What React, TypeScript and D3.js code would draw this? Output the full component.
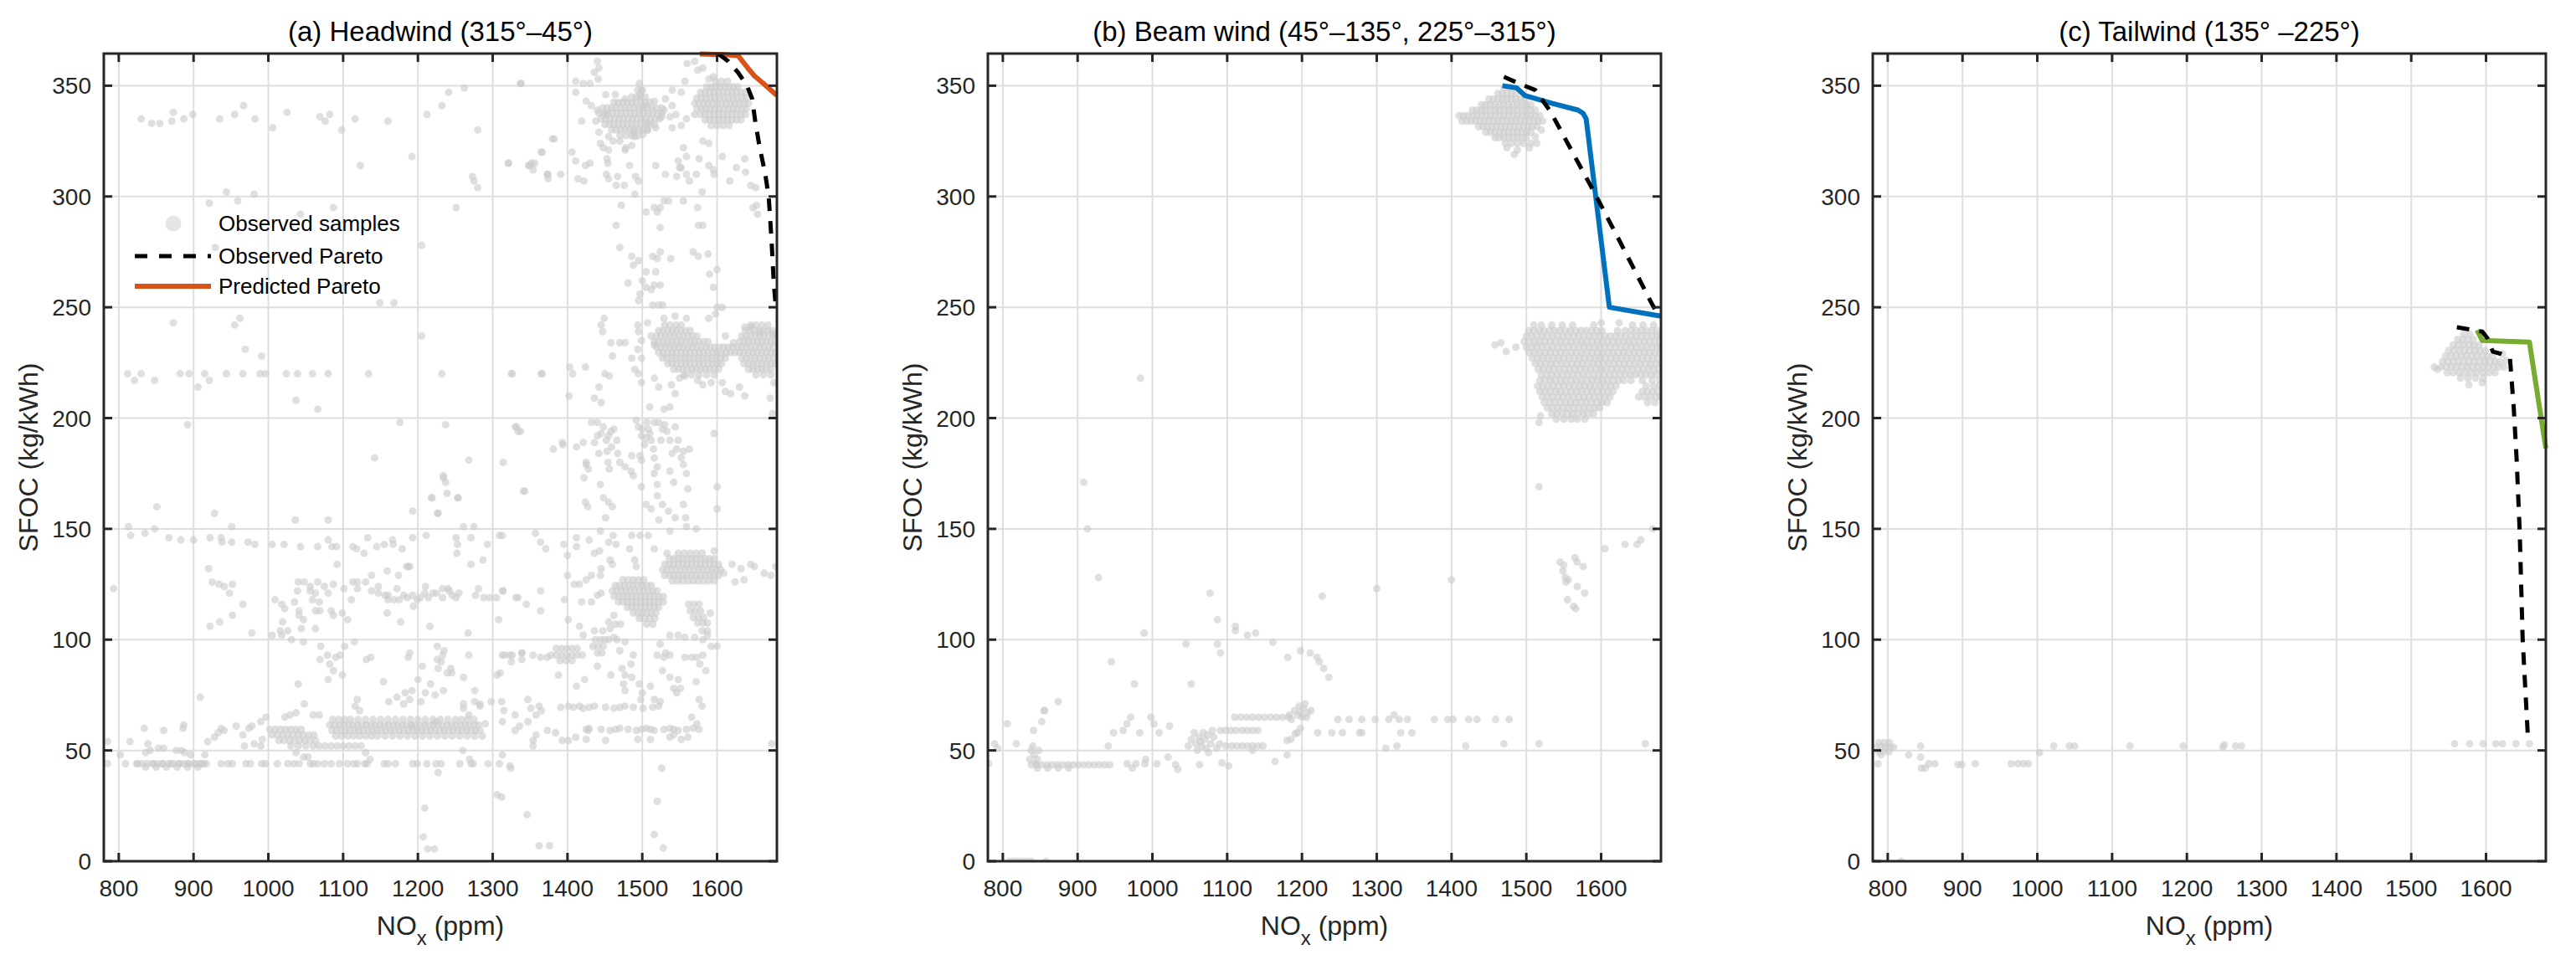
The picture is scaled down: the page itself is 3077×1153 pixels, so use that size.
import React from 'react';
import * as d3 from 'd3';

type Pt = [number, number];
type Row = [number, number[]];

const X_DOMAIN: Pt = [780, 1680];
const Y_DOMAIN: Pt = [0, 364.5];
const X_TICKS = [800, 900, 1000, 1100, 1200, 1300, 1400, 1500, 1600];
const Y_TICKS = [0, 50, 100, 150, 200, 250, 300, 350];

const TITLES = ['(a) Headwind (315°–45°)', '(b) Beam wind (45°–135°, 225°–315°)', '(c) Tailwind (135° –225°)'];
const PRED_COLORS = ['#D95319', '#0072BD', '#77AC30'];
const LEGEND_LABELS = ['Observed samples', 'Observed Pareto', 'Predicted Pareto'];

// ---------- Headwind (a) ----------
const headwindScatter: Pt[] = [
  [813,151],[816,147],[835,148],[848,150],[851,160],[867,146],[883,145],[900,145],[922,146],[928,157],[937,146],[938,144],[951,151],[951,144],[973,144],[982,143],[1005,143],[1021,143],[1036,154],[1043,142],[1066,142],[1080,154],[1080,145],[1085,142],[1091,142],[1092,134],[1113,142],[1118,141],[1128,139],[1133,146],[1145,142],[1155,143],[1166,145],[1167,143],[1179,141],[1187,133],[1193,146],[1193,158],[1211,147],[1219,164],[1227,157],[1234,173],[1237,171],[1239,166],[1253,164],[1251,146],[1253,143],[1252,139],[1261,151],[1271,146],[1271,134],[1275,151],[1287,136],[1293,143],[1309,147],
  [793,123],[920,132],[925,126],[934,125],[941,124],[948,121],[952,125],[966,116],[952,111],[935,108],[922,106],[978,103],[1005,102],[1009,118],[1018,116],[1022,114],[1019,108],[1016,104],[1018,102],[1026,104],[1031,100],[1035,117],[1040,126],[1039,122],[1041,113],[1041,111],[1044,105],[1047,109],[1047,99],[1048,126],[1056,124],[1056,122],[1059,118],[1063,113],[1063,121],[1063,105],[1066,126],[1068,117],[1069,113],[1075,124],[1080,121],[1084,113],[1087,111],[1087,125],[1101,123],[1099,112],[1106,109],[1111,118],[1113,126],[1119,126],[1119,123],[1130,126],[1138,129],[1138,122],[1147,124],[1147,121],[1159,131],[1160,120],[1174,129],[1172,123],[1185,133],[1189,133],
  [1156,120],[1160,118],[1168,118],[1175,118],[1181,120],[1186,119],[1193,120],[1199,118],[1203,119],[1209,121],[1214,119],[1220,121],[1225,121],[1233,119],[1242,122],[1246,120],[1251,119],[1255,121],[1277,120],[1281,123],[1288,119],[1296,119],[1305,119],[1314,122],[1331,119],[1233,123],[1240,123],[1210,124],[1194,115],[1159,112],[1177,108],[1216,106],[1267,103],[1268,93],[1308,109],
  [1235,95],[1226,91],[1233,93],[1226,97],[1231,90],[1227,87],[1239,85],[1245,85],[1244,87],[1261,83],[1276,77],[1234,77],[1223,75],[1217,80],[1210,76],[1204,72],[1206,88],[1200,82],[1189,94],[1187,92],[1192,77],[1189,73],[1183,76],[1172,74],[1181,71],[1161,72],[1154,81],[1137,92],[1131,91],[1115,99],[1102,97],[1096,93],[1090,92],[1099,84],[1087,86],[1082,89],[1079,93],[1070,97],[1069,91],[1080,82],[1040,80],[1048,71],[1306,84],[1310,85],[1316,93],[1323,93],[1325,90],[1339,94],[1339,91],[1261,71],[1276,72],[1283,71],[1298,72],[1312,72],[1315,68],[1119,73],[1116,70],[1122,68],[1261,69],[1283,70],[1268,66],[1275,64],[1290,62],
  [834,60],[860,59],[886,60],[887,61.5],[815,54],[839,53],[785,54],[802,48],[836,49],[842,50],[853,51],[860,51],[877,50],[884,50],[888,49],[896,48],[915,48],[919,54],[928,56],[933,58],[937,60],[941,59],[957,61],[966,57],[974,60],[978,61],[990,63],[997,65],[968,52],[981,53],[990,52],[992,55],[1022,65],[1029,66],[1037,67],[1053,47],[1047,47],[1037,49],[1060,66],[1068,66],[1192,61],[1224,63],[909,74],
  [785,44],[809,44],[825,44],[847,44],[858,44],[870,44],[881,44],[892,44],[903,44],[911,44],[917,44],[937,44],[946,44],[952,44],[970,44],[976,44],[991,44],[996,44],[1012,44],[1026,44],[1034,44],[1041,44],[1056,44],[1060,44],[1066,44],[1075,44],[1084,44],[1095,44],[1106,44],[1114,44],[1119,44],[1129,44],[1132,44],[1155,44],[1160,44],[1170,44],[1193,44],[1199,44],[1212,44],[1224,44],[1231,44],[1256,44],[1274,44],[1294,44],[1309,44],[1323,43],
  [1227,40],[1306,30],[1209,24],[1207,11],[1213,5.5],[1222,5.5],[1269,46],[1271,44],[1260,50],[1313,48],[1136,46],[1130,49],[1312,29],[1346,21],[1362,7],[1376,7],[1324,42],[1526,42],[1520,27],[1516,12],[1528,6],[1673,53],
  [830,335],[844,333],[855,333],[873,338],[871,334],[887,335],[899,337],[935,335],[955,337],[967,341],[982,335],[1006,331],[1025,338],[1069,336],[1082,337],[1076,334],[1098,330],[1116,335],[1160,334],[1212,337],[1232,341],[1241,347],[1262,349],[1337,351],[1280,330],[1123,314],[1192,318],[921,297],[944,302],[959,298],[981,301],[1043,292],[1087,295],[1251,295],[1273,309],[1275,307],[1280,304],[1321,315],[1380,326],[1366,320],[1348,314],[1352,315],[1373,310],[1391,310],[1205,278],[929,277],[1149,252],[1168,252],[873,243],[955,242],[962,245],[969,231],[991,228],[1205,237],
  [812,220],[821,217],[830,220],[848,217],[882,220],[894,220],[906,214],[915,220],[921,217],[944,220],[966,220],[989,220],[996,220],[1024,220],[1039,220],[1059,220],[1080,220],[1134,220],[1232,220],[1325,220],[1366,220],[1037,208],[1066,204],[892,197],[1176,198],[1237,197],[1142,182],[1268,181],[1314,180],[1330,196],[1334,194],[1394,188],[1234,174],[1218,164],[1254,164],[1226,157],[1341,167],
  [1338,351],[1321,315],[1349,314],[1354,312],[1356,315],[1365,320],[1374,310],[1374,308],[1382,326],[1406,320],[1411,316],[1414,308],[1422,307],[1424,314],[1430,315],[1411,352],[1411,347],[1421,351],[1430,351],[1419,334],[1440,361],[1442,358],[1436,356],[1441,353],[1425,343],[1432,341],[1440,339],[1444,324],[1448,322],[1455,321],[1453,317],[1454,315],[1452,310],[1455,308],[1465,305],[1467,309],[1476,305],[1478,322],[1483,314],[1486,323],[1491,309],[1495,307],[1490,301],[1472,296],[1465,287],[1470,277],[1486,273],[1488,269],[1495,271],[1505,266],[1505,259],[1495,253],[1497,256],[1500,262],[1481,261],[1518,314],[1531,310],[1505,293],[1516,295],[1520,293],[1524,295],[1529,298],[1535,298],[1524,286],[1514,273],[1524,275],[1520,272],[1518,266],[1512,258],[1516,260],[1524,260],[1527,251],[1514,251],[1522,251],[1538,272],[1555,298],[1574,295],[1575,287],[1581,287],[1568,275],[1575,273],[1588,274],[1590,265],[1600,267],[1595,259],[1607,250],[1645,305],[1652,304],[1653,296],[1648,295],[1654,292],[1617,307],[1626,313],[1637,317],[1638,311],[1580,302],[1572,310],[1559,310],[1552,313],[1548,316],[1559,318],[1576,317],[1589,314],[1595,312],[1596,310],[1555,322],[1581,325],[1589,324],[1607,318],[1563,307],[1546,309],[1550,313],
  [1540,341],[1552,347],[1557,352],[1545,337],[1537,336],[1540,331],[1552,332],[1559,335],[1570,337],[1574,357],[1570,361],[1589,353],[1595,354],[1540,348],[1531,344],[1526,336],[1518,331],[1507,330],[1501,328],[1490,327],[1507,333],[1526,340],[1529,339],[1516,343],[1497,346],[1499,348],[1503,341],[1477,344],[1464,346],[1451,346],[1451,337],[1438,334],[1442,329],[1455,327],[1461,325],[1470,325],[1477,321],[1488,329],[1581,358],[1595,364],[1560,360],
  [1449,245],[1445,242],[1447,239],[1458,234],[1470,234],[1477,234],[1460,228],[1486,227],[1494,242],[1495,239],[1499,235],[1494,231],[1499,227],[1490,222],[1495,220],[1499,216],[1507,243],[1512,237],[1516,233],[1516,218],[1522,214],[1539,215],[1544,211],[1550,218],[1557,219],[1574,217],[1581,215],[1592,216],[1607,216],[1611,212],[1618,211],[1630,214],[1637,210],[1671,209],[1674,202],[1676,216],[1529,245],[1544,246],[1559,245],[1589,245],[1598,247],[1600,250],[1611,237],[1622,234],[1637,241],[1645,241],[1658,239],[1676,238],[1403,223],[1424,223],[1326,220],[1365,220],[1407,220],[1450,220],[1456,219],[1442,214],[1436,209],[1445,207],[1402,210],
  [1332,196],[1337,194],[1381,186],[1393,189],[1412,187],[1421,189],[1425,180],[1432,198],[1440,198],[1445,193],[1455,192],[1462,195],[1466,190],[1459,187],[1453,185],[1436,189],[1442,184],[1467,184],[1470,180],[1486,183],[1492,199],[1495,196],[1499,192],[1505,191],[1508,195],[1512,190],[1516,198],[1522,198],[1527,195],[1533,194],[1537,190],[1544,196],[1540,184],[1546,186],[1555,185],[1563,186],[1497,183],[1499,181],[1520,178],[1516,182],[1596,193],[1537,205],[1529,204],[1510,205],[1448,196],[1452,190],[1458,194],[1440,192],[1500,195],[1503,188],[1506,198],[1510,193],[1515,186],[1525,190],[1530,197],[1548,190],[1552,182],
  [1425,179],[1422,173],[1428,177],[1454,180],[1456,177],[1444,170],[1477,178],[1485,176],[1488,174],[1499,169],[1516,175],[1520,170],[1537,176],[1542,171],[1555,179],[1559,175],[1561,168],[1600,169],[1600,159],[1424,162],[1427,160],[1448,164],[1455,162],[1460,160],[1451,155],[1505,161],[1512,159],[1520,165],[1527,161],[1535,158],[1522,154],[1537,149],[1544,155],[1555,161],[1558,155],[1559,151],[1572,150],[1343,167],
  [1357,148],[1364,144],[1371,141],[1395,143],[1400,138],[1412,146],[1412,142],[1429,145],[1436,139],[1443,140],[1444,149],[1455,144],[1461,147],[1465,143],[1486,147],[1497,147],[1508,147],[1516,141],[1483,141],[1490,136],[1492,133],[1457,136],[1460,134],[1445,132],[1444,129],[1432,129],[1425,127],[1416,125],[1409,125],[1400,129],[1396,118],[1419,117],[1432,117],[1440,120],[1445,121],[1401,109],[1416,106],[1421,102],[1436,104],[1447,104],[1457,105],[1464,107],[1471,107],[1455,108],[1462,111],[1466,100],[1313,122],[1334,119],[1345,116],[1364,122],[1364,113],[1313,147],
  [1620,134],[1632,132],[1645,134],[1650,133],[1663,130],[1672,129],[1678,133],[1624,126],[1636,127],[1609,130],[1596,140],[1533,139],[1591,112],[1587,102],[1581,100],
  [1313,93],[1326,93],[1339,94],[1354,93],[1364,92],[1373,92],[1455,100],[1462,101],[1470,95],[1477,99],[1488,93],[1485,89],[1473,87],[1458,84],[1440,88],[1388,84],[1412,79],[1423,82],[1477,84],[1486,83],[1496,80],[1500,76],[1498,73],[1511,79],[1516,73],[1524,72],[1477,77],[1475,80],[1520,93],[1524,98],[1529,92],[1531,94],[1537,93],[1527,86],[1537,83],[1548,82],[1542,78],[1546,76],[1551,78],[1557,92],[1566,92],[1573,92],[1577,89],[1581,93],[1585,86],[1572,81],[1576,73],[1580,70],[1566,65],[1573,62],[1592,97],[1600,97],[1537,102],[1548,102],[1557,101],[1570,101],
  [1391,69.5],[1401,70],[1408,69.5],[1416,70],[1421,69],[1429,69.5],[1436,70],[1451,69.5],[1462,69],[1470,69.5],[1477,70],[1488,69.5],[1501,69],[1514,69.5],[1522,70],
  [1425,59.5],[1429,60],[1445,59.5],[1457,59],[1464,59.5],[1470,60],[1481,59.5],[1492,59],[1499,59.5],[1505,60],[1511,59.5],[1516,59],[1529,59.5],[1537,60],[1542,59.5],[1548,59],[1559,59.5],[1568,60],[1576,59.5],[1511,55],[1537,56],[1542,57],[1552,55],[1561,56],[1494,55],[1451,54.5],[1428,59],
  [1347,73],[1351,69],[1362,70],[1330,66],[1347,63],[1358,66],[1365,68],[1373,59],[1358,57],[1354,54.5],[1354,52],[1330,59],[1336,61],[1384,58],[1393,54.5],[1401,54.5],[1411,56],[1425,55],[1313,63],
];

const headwindClusterRows: Row[] = [
  [351, [1496]], [348, [1494, 1500]],
  [345, [1486, 1492, 1498, 1504]],
  [342.5, [1462, 1468, 1474, 1480, 1486, 1492, 1498, 1504, 1510]],
  [340, [1447, 1453, 1459, 1465, 1471, 1477, 1483, 1489, 1495, 1501, 1507, 1513, 1519]],
  [337.5, [1442, 1448, 1454, 1460, 1466, 1472, 1478, 1484, 1490, 1496, 1502, 1508, 1514, 1520, 1526]],
  [335, [1445, 1451, 1457, 1463, 1469, 1475, 1481, 1487, 1493, 1499, 1505, 1511, 1517, 1523]],
  [332.5, [1450, 1456, 1462, 1468, 1474, 1480, 1486, 1492, 1498, 1504, 1510, 1516]],
  [330, [1459, 1465, 1471, 1477, 1483, 1489, 1495, 1501, 1507]],
  [327.5, [1470, 1478, 1486, 1494]],
  [352, [1598, 1606, 1614]],
  [349.5, [1586, 1592, 1598, 1604, 1610, 1616, 1622, 1628]],
  [347, [1578, 1584, 1590, 1596, 1602, 1608, 1614, 1620, 1626, 1632, 1638]],
  [344.5, [1573, 1579, 1585, 1591, 1597, 1603, 1609, 1615, 1621, 1627, 1633, 1639]],
  [342, [1570, 1576, 1582, 1588, 1594, 1600, 1606, 1612, 1618, 1624, 1630, 1636, 1642]],
  [339.5, [1573, 1579, 1585, 1591, 1597, 1603, 1609, 1615, 1621, 1627, 1633, 1639]],
  [337, [1578, 1584, 1590, 1596, 1602, 1608, 1614, 1620, 1626, 1632, 1638]],
  [334.5, [1584, 1590, 1596, 1602, 1608, 1614, 1620, 1626, 1632]],
  [332, [1592, 1600, 1608, 1616]],
  [242, [1530, 1537, 1545, 1552, 1645, 1652, 1660, 1668]],
  [239.5, [1522, 1528, 1534, 1540, 1546, 1552, 1558, 1564, 1638, 1644, 1650, 1656, 1662, 1668, 1674]],
  [237, [1519, 1525, 1531, 1537, 1543, 1549, 1555, 1561, 1567, 1573, 1633, 1639, 1645, 1651, 1657, 1663, 1669, 1675, 1680]],
  [234.5, [1516, 1522, 1528, 1534, 1540, 1546, 1552, 1558, 1564, 1570, 1576, 1582, 1588, 1630, 1636, 1642, 1648, 1654, 1660, 1666, 1672, 1678]],
  [232, [1519, 1525, 1531, 1537, 1543, 1549, 1555, 1561, 1567, 1573, 1579, 1585, 1591, 1597, 1603, 1609, 1615, 1621, 1627, 1633, 1639, 1645, 1651, 1657, 1663, 1669, 1675]],
  [229.5, [1522, 1528, 1534, 1540, 1546, 1552, 1558, 1564, 1570, 1576, 1582, 1588, 1594, 1600, 1606, 1612, 1618, 1624, 1630, 1636, 1642, 1648, 1654, 1660, 1666, 1672, 1678]],
  [227, [1527, 1533, 1539, 1545, 1551, 1557, 1563, 1569, 1575, 1581, 1587, 1593, 1599, 1605, 1611, 1633, 1639, 1645, 1651, 1657, 1663, 1669, 1675]],
  [224.5, [1534, 1540, 1546, 1552, 1558, 1564, 1570, 1576, 1582, 1588, 1594, 1600, 1606, 1636, 1642, 1648, 1654, 1660, 1666, 1672, 1678]],
  [222, [1542, 1548, 1554, 1560, 1566, 1572, 1578, 1584, 1590, 1596, 1602, 1642, 1648, 1654, 1660, 1666, 1672]],
  [219.5, [1556, 1566, 1576, 1586, 1596, 1652, 1662, 1672]],
  [139, [1548, 1556, 1564, 1572, 1580]],
  [136.5, [1536, 1542, 1548, 1554, 1560, 1566, 1572, 1578, 1584, 1590, 1596]],
  [134, [1530, 1536, 1542, 1548, 1554, 1560, 1566, 1572, 1578, 1584, 1590, 1596, 1602]],
  [131.5, [1527, 1533, 1539, 1545, 1551, 1557, 1563, 1569, 1575, 1581, 1587, 1593, 1599, 1605]],
  [129, [1530, 1536, 1542, 1548, 1554, 1560, 1566, 1572, 1578, 1584, 1590, 1596, 1602]],
  [126.5, [1540, 1547, 1554, 1561, 1568, 1575, 1582, 1589, 1596]],
  [127, [1474, 1481, 1488, 1495, 1502]],
  [124.5, [1464, 1470, 1476, 1482, 1488, 1494, 1500, 1506, 1512]],
  [122, [1460, 1466, 1472, 1478, 1484, 1490, 1496, 1502, 1508, 1514, 1520]],
  [119.5, [1462, 1468, 1474, 1480, 1486, 1492, 1498, 1504, 1510, 1516, 1522, 1528]],
  [117, [1468, 1474, 1480, 1486, 1492, 1498, 1504, 1510, 1516, 1522, 1528]],
  [114.5, [1480, 1486, 1492, 1498, 1504, 1510, 1516, 1522]],
  [112, [1488, 1494, 1500, 1506, 1512, 1518]],
  [109.5, [1496, 1503, 1510, 1517]],
  [107, [1506, 1514]],
  [116, [1562, 1569, 1576]], [113, [1564, 1571, 1578]], [110, [1568, 1575, 1582]], [107.5, [1574, 1581, 1587]], [104, [1580, 1587]],
  [96, [1385, 1392, 1399, 1406, 1413]], [93, [1378, 1385, 1392, 1399, 1406, 1413, 1420]], [90.5, [1390, 1398, 1406]],
  [100, [1437, 1444, 1450]], [97, [1434, 1441, 1448]], [94, [1440, 1446]],
  [64, [1086, 1094, 1102, 1110, 1120, 1130, 1140, 1150, 1160, 1170, 1180, 1190, 1200, 1210, 1220, 1230, 1240, 1250, 1258, 1266]],
  [61.5, [1082, 1089, 1095, 1101, 1107, 1113, 1119, 1125, 1131, 1137, 1143, 1149, 1155, 1161, 1167, 1173, 1179, 1185, 1191, 1197, 1203, 1209, 1215, 1221, 1227, 1233, 1239, 1245, 1251, 1257, 1263, 1269, 1275, 1281]],
  [59, [1085, 1091, 1097, 1103, 1109, 1115, 1121, 1127, 1133, 1139, 1145, 1151, 1157, 1163, 1169, 1175, 1181, 1187, 1193, 1199, 1205, 1211, 1217, 1223, 1229, 1235, 1241, 1247, 1253, 1259, 1265, 1271, 1277, 1283]],
  [56.5, [1090, 1098, 1106, 1114, 1122, 1130, 1138, 1146, 1156, 1166, 1176, 1186, 1196, 1206, 1216, 1226, 1236, 1246, 1256, 1266, 1276, 1286]],
  [59.5, [1002, 1009, 1016, 1023, 1030, 1037, 1044]],
  [57, [1005, 1012, 1019, 1026, 1033, 1040, 1047, 1054, 1061]],
  [54.5, [1014, 1021, 1028, 1035, 1042, 1049, 1056, 1063]],
  [52, [1030, 1040, 1050, 1060, 1068, 1076, 1084, 1092, 1100, 1108, 1116, 1124]],
  [44, [824, 831, 838, 845, 852, 859, 866, 873, 880, 887, 894, 901, 908, 914]],
  [42.5, [836, 850, 864, 878, 892, 906]],
];

const headwindObserved: Pt[] = [[1602,364.3],[1615,361],[1628,356],[1640,350],[1647,344],[1651,334],[1657,322],[1664,311],[1669,300],[1671,290],[1673,279],[1676,260],[1679,249]];
const headwindPredicted: Pt[] = [[1577,364.3],[1610,364],[1628,363.6],[1641,358],[1650,354.4],[1661,351.3],[1672,348],[1680,345.6]];

// ---------- Beam wind (b) ----------
const beamScatter: Pt[] = [
  [908,171],[913,150],[928,128],[1077,121],[1227,119.6],[1400,127],[1300,123],[1517,169],
  [1545,135],[1550,133.6],[1549,131],[1552,128],[1553,126],[1556,127],[1555,118],[1563,115],[1565,137],[1568,135],[1568,124],[1576,133],[1578,121],[1566,114],
  [1605,141],[1632,143],[1648,143],[1653,145],[1669,150],[1517,53],[1659,53],
  [1161,98.8],[1198,95],[1211,94],[1220,92],[1223,90],[1229,87],[1236,83],[1181,92],
  [1091,94],[1087,98],[1045,98],[1087,109],[1111,104],[1111,106],[1127,102],[1138,103],
  [989,103],[945,90],[976,80],[1052,80],[874,72],[855,68],[984,218],
  [1248,64],[1263,64],[1280,64],[1298,64],[1316,64],[1330,64],[1341,64],[1377,64],[1395,64],[1402,64],[1423,64],[1434,64],[1459,64],[1477,64],[1323,66],
  [1221,58],[1240,58],[1254,58],[1277,58],[1280,58],[1332,58],[1347,58],
  [1419,52],[1470,53],[1327,52],[1312,51],
  [1190,68],[1196,70],[1202,69],[1208,67],[1194,66],[1200,65],[1206,65],[1212,68],[1186,64],[1183,66],[1204,71],[1198,67],
  [1110,65],[1118,65],[1126,65],[1134,65],[1142,65],[1150,65],[1158,65],[1166,65],[1174,65],[1182,65],
  [1091,59],[1098,59],[1105,59],[1112,59],[1120,59],[1127,59],[1134,59],[1141,59],
  [1098,52],[1106,52],[1113,52],[1120,52],[1127,52],[1134,52],[1141,52],[1148,52],
  [1052,55],[1058,53],[1062,56],[1066,52],[1070,55],[1074,57],[1078,53],[1082,56],[1086,51],[1060,50],[1075,49],[1090,53],[1048,52],[1056,58],[1068,58],[1080,59],[1072,51],[1064,54],
  [838,43.5],[845,43.5],[852,43.5],[859,43.5],[866,43.5],[873,43.5],[880,43.5],[887,43.5],[894,43.5],[901,43.5],[908,43.5],[915,43.5],[922,43.5],[929,43.5],[936,43.5],[943,43.5],
  [846,42],[860,42],[874,42],[888,42],[966,44],[978,44],[990,44],
  [838,50],[842,48],[846,46],[840,52],[836,46],[848,50],[844,44],
  [809,0],[815,0],[820,0],[826,0],[832,0],[838,0],[858,0],
  [781,44],[806,62],[789,53],[793,51],[818,53],[841,59],[852,63],[856,68],
  [1031,43.6],[1034,41.5],[1063,43.6],[1102,43],[1134,50],[1164,45],[1180,48],[1093,44.4],[1006,44],[991,46],[973,42],[1021,47],[941,52],[948,58],[961,59],[966,62],[971,65],[983,58],[998,65],[1002,62],[1009,58],[1023,61],
  [1180,54.5],[1191,57.5],[1198,60],[1185,55],[1194,58],
  [1458,233],[1466,234],[1473,230],[1486,232],[1624,243],[1517,198],[1519,201],[1600,243],
  [1484,319],[1488,321],[1474,322],[1512,327],[1520,330],[1504,322],
];

const beamClusterRows: Row[] = [
  [349, [1470, 1478]],
  [346.5, [1462, 1468, 1474, 1480, 1486]],
  [344, [1450, 1456, 1462, 1468, 1474, 1480, 1486, 1492, 1498]],
  [341.5, [1440, 1446, 1452, 1458, 1464, 1470, 1476, 1482, 1488, 1494, 1500, 1506]],
  [339, [1428, 1434, 1440, 1446, 1452, 1458, 1464, 1470, 1476, 1482, 1488, 1494, 1500, 1506, 1512]],
  [336.5, [1410, 1416, 1422, 1428, 1434, 1440, 1446, 1452, 1458, 1464, 1470, 1476, 1482, 1488, 1494, 1500, 1506, 1512, 1518]],
  [334, [1414, 1420, 1426, 1432, 1438, 1444, 1450, 1456, 1462, 1468, 1474, 1480, 1486, 1492, 1498, 1504, 1510, 1516, 1522]],
  [331.5, [1436, 1442, 1448, 1454, 1460, 1466, 1472, 1478, 1484, 1490, 1496, 1502, 1508, 1514]],
  [329, [1446, 1452, 1458, 1464, 1470, 1476, 1482, 1488, 1494, 1500, 1506]],
  [326.5, [1458, 1464, 1470, 1476, 1482, 1488, 1494, 1500]],
  [324, [1472, 1480, 1488, 1496, 1506, 1514]],
  [242, [1510, 1520, 1534, 1548, 1562, 1590, 1642, 1656, 1670]],
  [239.5, [1503, 1510, 1517, 1524, 1531, 1538, 1545, 1552, 1559, 1566, 1573, 1580, 1587, 1594, 1601, 1622, 1632, 1640, 1647, 1654, 1661, 1668, 1675]],
  [237, [1500, 1507, 1514, 1521, 1528, 1535, 1542, 1549, 1556, 1563, 1570, 1577, 1584, 1591, 1598, 1605, 1612, 1619, 1626, 1633, 1640, 1647, 1654, 1661, 1668, 1675, 1680]],
  [234.5, [1497, 1504, 1511, 1518, 1525, 1532, 1539, 1546, 1553, 1560, 1567, 1574, 1581, 1588, 1595, 1602, 1609, 1616, 1623, 1630, 1637, 1644, 1651, 1658, 1665, 1672, 1679]],
  [232, [1500, 1507, 1514, 1521, 1528, 1535, 1542, 1549, 1556, 1563, 1570, 1577, 1584, 1591, 1598, 1605, 1612, 1619, 1626, 1633, 1640, 1647, 1654, 1661, 1668, 1675, 1680]],
  [229.5, [1504, 1511, 1518, 1525, 1532, 1539, 1546, 1553, 1560, 1567, 1574, 1581, 1588, 1595, 1602, 1609, 1616, 1623, 1630, 1637, 1644, 1651, 1658, 1665, 1672, 1679]],
  [227, [1508, 1515, 1522, 1529, 1536, 1543, 1550, 1557, 1564, 1571, 1578, 1585, 1592, 1599, 1606, 1613, 1620, 1627, 1634, 1641, 1648, 1655, 1662, 1669, 1676]],
  [224.5, [1512, 1519, 1526, 1533, 1540, 1547, 1554, 1561, 1568, 1575, 1582, 1589, 1596, 1603, 1610, 1617, 1624, 1631, 1638, 1645, 1652, 1659, 1666, 1673, 1680]],
  [222, [1516, 1523, 1530, 1537, 1544, 1551, 1558, 1565, 1572, 1579, 1586, 1593, 1600, 1607, 1614, 1621, 1628, 1635, 1642, 1649, 1656, 1663, 1670, 1677]],
  [219.5, [1520, 1527, 1534, 1541, 1548, 1555, 1562, 1569, 1576, 1583, 1590, 1597, 1604, 1611, 1618, 1625, 1632, 1639, 1646, 1653, 1660, 1667, 1674]],
  [217, [1518, 1525, 1532, 1539, 1546, 1553, 1560, 1567, 1574, 1581, 1588, 1595, 1602, 1609, 1616, 1623, 1630, 1640, 1655, 1668, 1678]],
  [214.5, [1515, 1522, 1529, 1536, 1543, 1550, 1557, 1564, 1571, 1578, 1585, 1592, 1599, 1606, 1613, 1620, 1660, 1670, 1678]],
  [212, [1518, 1525, 1532, 1539, 1546, 1553, 1560, 1567, 1574, 1581, 1588, 1595, 1602, 1609, 1616, 1655, 1662, 1669, 1676]],
  [209.5, [1521, 1528, 1535, 1542, 1549, 1556, 1563, 1570, 1577, 1584, 1591, 1598, 1605, 1612, 1650, 1658, 1666, 1674, 1680]],
  [207, [1524, 1531, 1538, 1545, 1552, 1559, 1566, 1573, 1580, 1587, 1594, 1601, 1608, 1662, 1672]],
  [204.5, [1528, 1535, 1542, 1549, 1556, 1563, 1570, 1577, 1584, 1591, 1598]],
  [202, [1534, 1541, 1548, 1555, 1562, 1569, 1576, 1583, 1590]],
  [199.5, [1540, 1550, 1560, 1568, 1578]],
];

const beamObserved: Pt[] = [[1470,354],[1490,351],[1512,348],[1532,338.5],[1589,303],[1620,283],[1668,251.5],[1678,245.5]];
const beamPredicted: Pt[] = [[1468,350],[1487,349],[1498,345.6],[1535,342],[1569,339],[1576,337.5],[1580,335],[1611,250],[1680,246]];

// ---------- Tailwind (c) ----------
const tailScatter: Pt[] = [
  [787,44],[828,48],[844,52],[844,47],[845,42],[850,42],[855,44],[863,44],[894,43.6],[899,43.6],[917,44],[965,44],[974,44],[981,44],[988,44],[1003,49],[1022,52],[1043,52],[1050,52],[1124,52],[1195,52],[1248,51.5],[1250,52.5],[1265,52],[1273,52],
  [1558,53],[1578,53],[1596,53],[1613,53],[1622,53],[1640,53],[1658,53],[818,0],
  [1531,223],[1535,222],[1577,215],[1595,216],[1627,226],[1622,229],
];

const tailClusterRows: Row[] = [
  [53.5, [788, 795, 802]], [51.5, [785, 791, 797, 803, 808]], [49.5, [788, 795, 802]], [48, [791]],
  [238, [1570, 1578]],
  [235.5, [1562, 1569, 1576, 1583]],
  [233, [1556, 1563, 1570, 1577, 1584, 1591]],
  [230.5, [1550, 1557, 1564, 1571, 1578, 1585, 1592, 1599]],
  [228, [1546, 1553, 1560, 1567, 1574, 1581, 1588, 1595, 1602, 1609]],
  [225.5, [1542, 1549, 1556, 1563, 1570, 1577, 1584, 1591, 1598, 1605, 1612, 1619]],
  [223, [1540, 1547, 1554, 1561, 1568, 1575, 1582, 1589, 1596, 1603, 1610, 1617, 1624]],
  [220.5, [1548, 1556, 1564, 1572, 1580, 1588, 1596, 1604, 1612]],
  [218, [1566, 1576, 1586, 1596]],
];

const tailObserved: Pt[] = [[1561,241],[1595,239],[1602,236],[1609,230],[1620,229],[1632,227],[1637,205],[1641,181],[1645,149],[1649,100],[1656,56]];
const tailPredicted: Pt[] = [[1588,239.7],[1595,235],[1658,234.3],[1680,186.3]];

// ---------- layout ----------
const W = 3077;
const H = 1153;
const PANEL_LEFTS = [124, 1180, 2237];
const TOP = 64;
const PW = 804;
const PH = 965;
const FONT = '"Liberation Sans", Arial, Helvetica, sans-serif';
const AXIS_COLOR = '#262626';
const DOT_FILL = '#cbcbcb';
const DOT_OPACITY = 0.62;

function expandRows(rows: Row[]): Pt[] {
  const out: Pt[] = [];
  rows.forEach(([yv, xs]) => xs.forEach((xv) => out.push([xv, yv])));
  return out;
}

const PANELS = [
  { id: 'a', scatter: headwindScatter, rows: headwindClusterRows, observed: headwindObserved, predicted: headwindPredicted },
  { id: 'b', scatter: beamScatter, rows: beamClusterRows, observed: beamObserved, predicted: beamPredicted },
  { id: 'c', scatter: tailScatter, rows: tailClusterRows, observed: tailObserved, predicted: tailPredicted },
];

function Panel({ idx }: { idx: number }) {
  const cfg = PANELS[idx];
  const x = d3.scaleLinear().domain(X_DOMAIN).range([0, PW]);
  const y = d3.scaleLinear().domain(Y_DOMAIN).range([PH, 0]);
  const line = d3.line<Pt>().x((d) => x(d[0])).y((d) => y(d[1]));
  const pts = [...cfg.scatter, ...expandRows(cfg.rows)];
  const color = PRED_COLORS[idx];
  return (
    <g transform={`translate(${PANEL_LEFTS[idx]},${TOP})`}>
      <defs>
        <clipPath id={`clip-${cfg.id}`}>
          <rect x={0} y={0} width={PW} height={PH} />
        </clipPath>
      </defs>
      <rect x={0} y={0} width={PW} height={PH} fill="#fff" />
      {X_TICKS.map((t) => (
        <line key={`gx${t}`} x1={x(t)} x2={x(t)} y1={0} y2={PH} stroke="#dedede" strokeWidth={2} />
      ))}
      {Y_TICKS.map((t) => (
        <line key={`gy${t}`} x1={0} x2={PW} y1={y(t)} y2={y(t)} stroke="#dedede" strokeWidth={2} />
      ))}
      <g clipPath={`url(#clip-${cfg.id})`}>
        {pts.map((p, i) => (
          <circle key={i} cx={x(p[0])} cy={y(p[1])} r={4.5} fill={DOT_FILL} fillOpacity={DOT_OPACITY} />
        ))}
      </g>
      <path d={line(cfg.predicted) || ''} fill="none" stroke={color} strokeWidth={6} strokeLinejoin="round" />
      <path d={line(cfg.observed) || ''} fill="none" stroke="#000" strokeWidth={5} strokeDasharray="15 12" strokeLinejoin="round" />
      <rect x={0} y={0} width={PW} height={PH} fill="none" stroke={AXIS_COLOR} strokeWidth={3} />
      {X_TICKS.map((t) => (
        <g key={`tx${t}`}>
          <line x1={x(t)} x2={x(t)} y1={PH} y2={PH - 10} stroke={AXIS_COLOR} strokeWidth={3} />
          <line x1={x(t)} x2={x(t)} y1={0} y2={10} stroke={AXIS_COLOR} strokeWidth={3} />
          <text x={x(t)} y={PH + 42} textAnchor="middle" fontSize={28} fill={AXIS_COLOR} fontFamily={FONT}>{t}</text>
        </g>
      ))}
      {Y_TICKS.map((t) => (
        <g key={`ty${t}`}>
          <line x1={0} x2={10} y1={y(t)} y2={y(t)} stroke={AXIS_COLOR} strokeWidth={3} />
          <line x1={PW} x2={PW - 10} y1={y(t)} y2={y(t)} stroke={AXIS_COLOR} strokeWidth={3} />
          <text x={-15} y={y(t) + 10} textAnchor="end" fontSize={28} fill={AXIS_COLOR} fontFamily={FONT}>{t}</text>
        </g>
      ))}
      <text x={PW / 2} y={-15} textAnchor="middle" fontSize={33} fill="#000" fontFamily={FONT}>{TITLES[idx]}</text>
      <text x={PW / 2} y={PH + 88} textAnchor="middle" fontSize={32} fill={AXIS_COLOR} fontFamily={FONT}>
        NO<tspan fontSize={24} dy={12}>x</tspan><tspan dy={-12}> (ppm)</tspan>
      </text>
      <text transform={`translate(-79,${PH / 2}) rotate(-90)`} textAnchor="middle" fontSize={32} fill={AXIS_COLOR} fontFamily={FONT}>SFOC (kg/kWh)</text>
      {idx === 0 && (
        <g fontFamily={FONT} fontSize={26} fill="#000">
          <circle cx={83} cy={203} r={9.5} fill={DOT_FILL} fillOpacity={0.5} />
          <text x={137} y={212}>{LEGEND_LABELS[0]}</text>
          <line x1={37} x2={128} y1={242} y2={242} stroke="#000" strokeWidth={5} strokeDasharray="15 14" />
          <text x={137} y={251}>{LEGEND_LABELS[1]}</text>
          <line x1={37} x2={128} y1={278} y2={278} stroke={color} strokeWidth={6} />
          <text x={137} y={287}>{LEGEND_LABELS[2]}</text>
        </g>
      )}
    </g>
  );
}

export default function App() {
  return (
    <svg width={W} height={H} style={{ position: 'absolute', left: 0, top: 0, background: '#fff' }}>
      <rect x={0} y={0} width={W} height={H} fill="#fff" />
      {PANELS.map((_, i) => (
        <Panel key={i} idx={i} />
      ))}
    </svg>
  );
}
